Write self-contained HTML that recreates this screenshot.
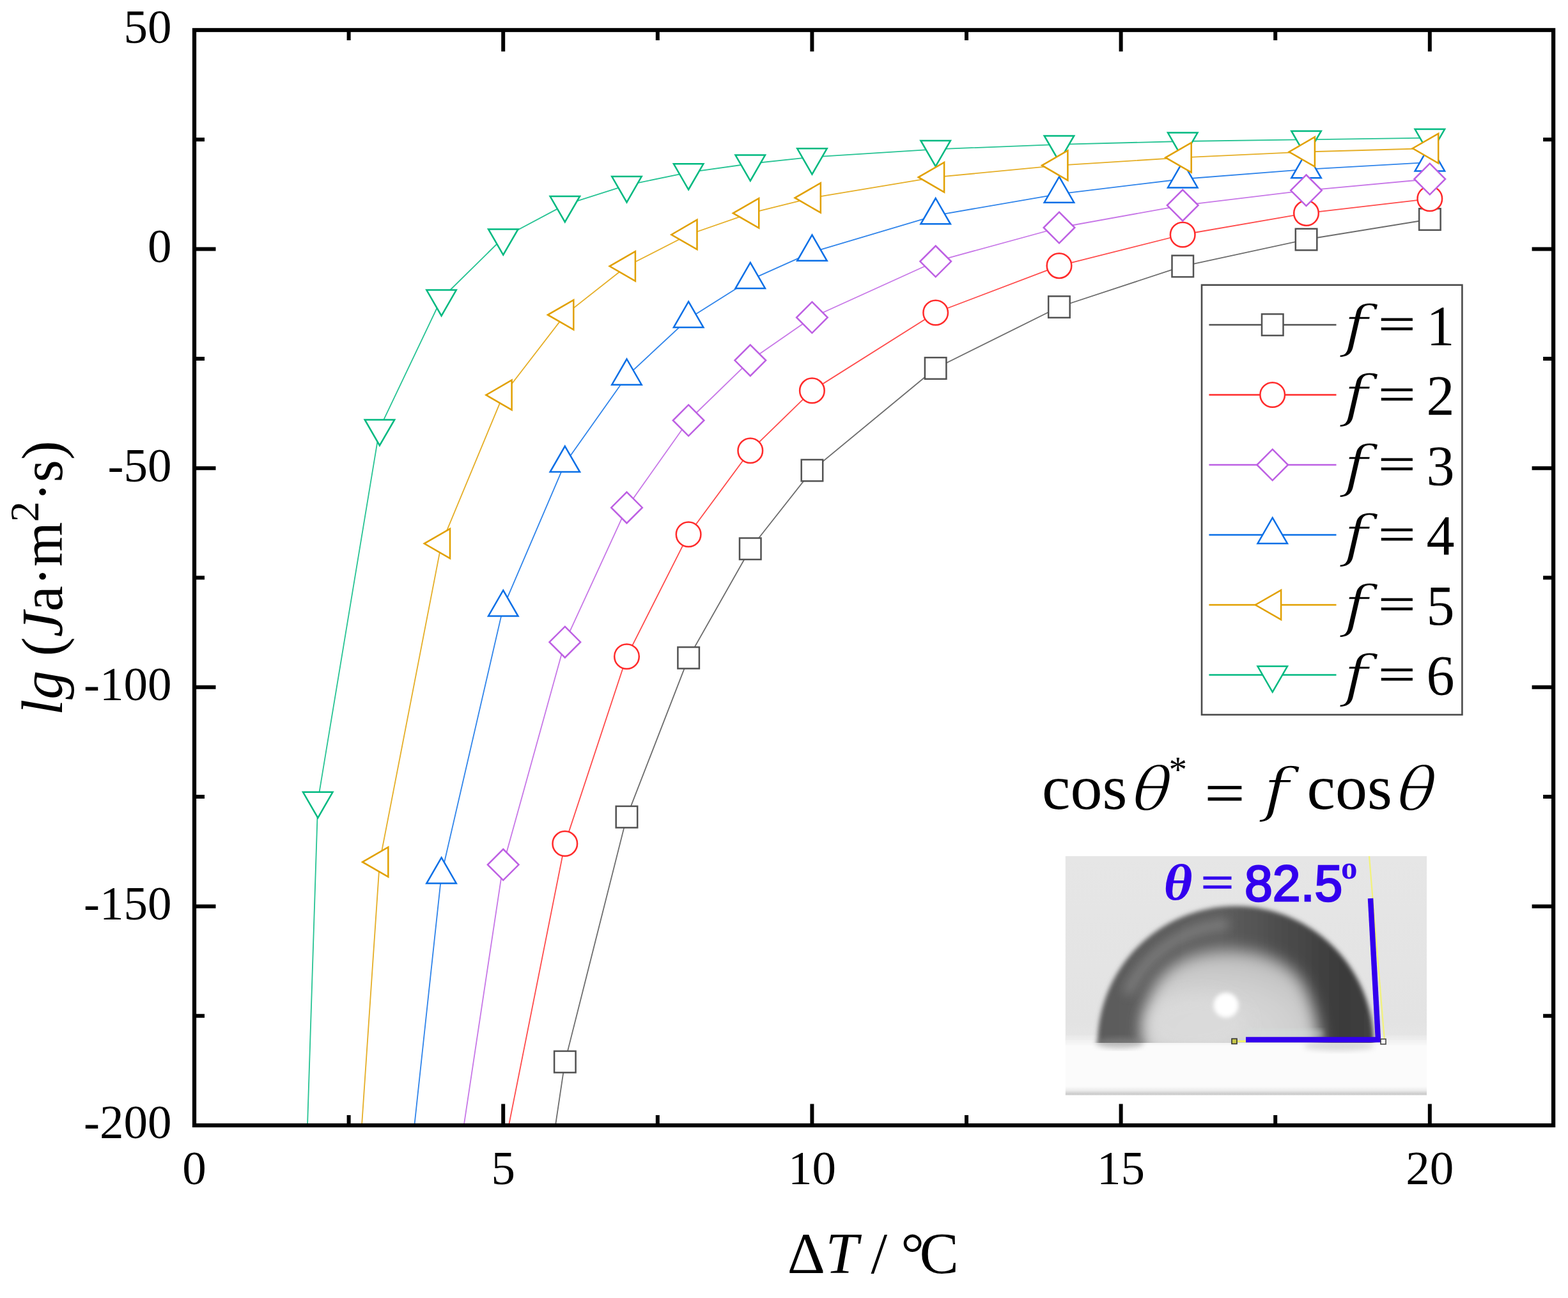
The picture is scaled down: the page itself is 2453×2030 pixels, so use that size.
<!DOCTYPE html>
<html><head><meta charset="utf-8"><title>lg(Ja m2 s) vs Delta T</title>
<style>
html,body{margin:0;padding:0;background:#fff;width:2453px;height:2030px;overflow:hidden}
svg{display:block}
text{font-family:'Liberation Serif', 'Times New Roman', serif}
</style></head><body>
<svg width="2453" height="2030" viewBox="0 0 2453 2030">
<defs>
<clipPath id="pc"><rect x="304.0" y="47.0" width="2126.1" height="1713.0"/></clipPath>
<radialGradient id="dropin" cx="0.5" cy="0.85" r="0.6">
<stop offset="0" stop-color="#dcdcdc"/><stop offset="0.6" stop-color="#cfcfcf"/><stop offset="1" stop-color="#9a9a9a"/>
</radialGradient>
<filter id="blur3" x="-20%" y="-20%" width="140%" height="140%"><feGaussianBlur stdDeviation="5"/></filter>
<filter id="blur2" x="-20%" y="-20%" width="140%" height="140%"><feGaussianBlur stdDeviation="2.5"/></filter>
</defs>
<rect width="2453" height="2030" fill="#fff"/>

<g clip-path="url(#pc)">
<polyline points="839.3,1958.7 883.8,1660.6 980.5,1277.6 1077.1,1028.9 1173.8,858.3 1270.4,735.6 1463.7,576.0 1657.0,480.0 1850.2,416.3 2043.5,374.5 2236.8,343.0" fill="none" stroke="#525252" stroke-opacity="0.85" stroke-width="1.8" stroke-linejoin="round"/>
<rect x="867.1" y="1643.9" width="33.5" height="33.5" fill="#fff" stroke="#525252" stroke-width="2.5"/>
<rect x="963.7" y="1260.9" width="33.5" height="33.5" fill="#fff" stroke="#525252" stroke-width="2.5"/>
<rect x="1060.4" y="1012.1" width="33.5" height="33.5" fill="#fff" stroke="#525252" stroke-width="2.5"/>
<rect x="1157.0" y="841.5" width="33.5" height="33.5" fill="#fff" stroke="#525252" stroke-width="2.5"/>
<rect x="1253.7" y="718.9" width="33.5" height="33.5" fill="#fff" stroke="#525252" stroke-width="2.5"/>
<rect x="1446.9" y="559.2" width="33.5" height="33.5" fill="#fff" stroke="#525252" stroke-width="2.5"/>
<rect x="1640.2" y="463.3" width="33.5" height="33.5" fill="#fff" stroke="#525252" stroke-width="2.5"/>
<rect x="1833.5" y="399.6" width="33.5" height="33.5" fill="#fff" stroke="#525252" stroke-width="2.5"/>
<rect x="2026.8" y="357.8" width="33.5" height="33.5" fill="#fff" stroke="#525252" stroke-width="2.5"/>
<rect x="2220.1" y="326.3" width="33.5" height="33.5" fill="#fff" stroke="#525252" stroke-width="2.5"/>
<polyline points="620.3,2641.2 883.8,1319.4 980.5,1026.8 1077.1,835.7 1173.8,704.8 1270.4,610.9 1463.7,489.0 1657.0,415.6 1850.2,367.0 2043.5,333.4 2236.8,310.8" fill="none" stroke="#FF2A2A" stroke-opacity="0.85" stroke-width="1.8" stroke-linejoin="round"/>
<circle cx="883.8" cy="1319.4" r="19.3" fill="#fff" stroke="#FF2A2A" stroke-width="2.5"/>
<circle cx="980.5" cy="1026.8" r="19.3" fill="#fff" stroke="#FF2A2A" stroke-width="2.5"/>
<circle cx="1077.1" cy="835.7" r="19.3" fill="#fff" stroke="#FF2A2A" stroke-width="2.5"/>
<circle cx="1173.8" cy="704.8" r="19.3" fill="#fff" stroke="#FF2A2A" stroke-width="2.5"/>
<circle cx="1270.4" cy="610.9" r="19.3" fill="#fff" stroke="#FF2A2A" stroke-width="2.5"/>
<circle cx="1463.7" cy="489.0" r="19.3" fill="#fff" stroke="#FF2A2A" stroke-width="2.5"/>
<circle cx="1657.0" cy="415.6" r="19.3" fill="#fff" stroke="#FF2A2A" stroke-width="2.5"/>
<circle cx="1850.2" cy="367.0" r="19.3" fill="#fff" stroke="#FF2A2A" stroke-width="2.5"/>
<circle cx="2043.5" cy="333.4" r="19.3" fill="#fff" stroke="#FF2A2A" stroke-width="2.5"/>
<circle cx="2236.8" cy="310.8" r="19.3" fill="#fff" stroke="#FF2A2A" stroke-width="2.5"/>
<polyline points="563.8,2543.9 690.6,1368.1 787.2,950.1 883.8,724.7 980.5,588.3 1077.1,498.5 1173.8,437.6 1270.4,394.4 1463.7,336.8 1657.0,303.3 1850.2,280.0 2043.5,264.9 2236.8,253.9" fill="none" stroke="#0A6FE6" stroke-opacity="0.85" stroke-width="1.8" stroke-linejoin="round"/>
<polygon points="690.6,1341.2 713.8,1381.5 667.3,1381.5" fill="#fff" stroke="#0A6FE6" stroke-width="2.5" stroke-linejoin="miter"/>
<polygon points="787.2,923.2 810.5,963.5 764.0,963.5" fill="#fff" stroke="#0A6FE6" stroke-width="2.5" stroke-linejoin="miter"/>
<polygon points="883.8,697.8 907.1,738.1 860.6,738.1" fill="#fff" stroke="#0A6FE6" stroke-width="2.5" stroke-linejoin="miter"/>
<polygon points="980.5,561.5 1003.7,601.7 957.2,601.7" fill="#fff" stroke="#0A6FE6" stroke-width="2.5" stroke-linejoin="miter"/>
<polygon points="1077.1,471.7 1100.4,512.0 1053.9,512.0" fill="#fff" stroke="#0A6FE6" stroke-width="2.5" stroke-linejoin="miter"/>
<polygon points="1173.8,410.7 1197.0,451.0 1150.5,451.0" fill="#fff" stroke="#0A6FE6" stroke-width="2.5" stroke-linejoin="miter"/>
<polygon points="1270.4,367.5 1293.7,407.8 1247.2,407.8" fill="#fff" stroke="#0A6FE6" stroke-width="2.5" stroke-linejoin="miter"/>
<polygon points="1463.7,310.0 1486.9,350.3 1440.4,350.3" fill="#fff" stroke="#0A6FE6" stroke-width="2.5" stroke-linejoin="miter"/>
<polygon points="1657.0,276.4 1680.2,316.7 1633.7,316.7" fill="#fff" stroke="#0A6FE6" stroke-width="2.5" stroke-linejoin="miter"/>
<polygon points="1850.2,253.1 1873.5,293.4 1827.0,293.4" fill="#fff" stroke="#0A6FE6" stroke-width="2.5" stroke-linejoin="miter"/>
<polygon points="2043.5,238.0 2066.8,278.3 2020.3,278.3" fill="#fff" stroke="#0A6FE6" stroke-width="2.5" stroke-linejoin="miter"/>
<polygon points="2236.8,227.1 2260.1,267.4 2213.6,267.4" fill="#fff" stroke="#0A6FE6" stroke-width="2.5" stroke-linejoin="miter"/>
<polyline points="602.7,2575.4 787.2,1352.3 883.8,1004.2 980.5,793.9 1077.1,657.5 1173.8,563.6 1270.4,496.5 1463.7,408.8 1657.0,356.0 1850.2,321.1 2043.5,297.8 2236.8,280.0" fill="none" stroke="#BD5FE3" stroke-opacity="0.85" stroke-width="1.8" stroke-linejoin="round"/>
<polygon points="787.2,1328.0 811.5,1352.3 787.2,1376.6 762.9,1352.3" fill="#fff" stroke="#BD5FE3" stroke-width="2.5" stroke-linejoin="miter"/>
<polygon points="883.8,979.9 908.1,1004.2 883.8,1028.5 859.5,1004.2" fill="#fff" stroke="#BD5FE3" stroke-width="2.5" stroke-linejoin="miter"/>
<polygon points="980.5,769.6 1004.8,793.9 980.5,818.2 956.2,793.9" fill="#fff" stroke="#BD5FE3" stroke-width="2.5" stroke-linejoin="miter"/>
<polygon points="1077.1,633.2 1101.4,657.5 1077.1,681.8 1052.8,657.5" fill="#fff" stroke="#BD5FE3" stroke-width="2.5" stroke-linejoin="miter"/>
<polygon points="1173.8,539.3 1198.1,563.6 1173.8,587.9 1149.5,563.6" fill="#fff" stroke="#BD5FE3" stroke-width="2.5" stroke-linejoin="miter"/>
<polygon points="1270.4,472.2 1294.7,496.5 1270.4,520.8 1246.1,496.5" fill="#fff" stroke="#BD5FE3" stroke-width="2.5" stroke-linejoin="miter"/>
<polygon points="1463.7,384.5 1488.0,408.8 1463.7,433.1 1439.4,408.8" fill="#fff" stroke="#BD5FE3" stroke-width="2.5" stroke-linejoin="miter"/>
<polygon points="1657.0,331.7 1681.3,356.0 1657.0,380.3 1632.7,356.0" fill="#fff" stroke="#BD5FE3" stroke-width="2.5" stroke-linejoin="miter"/>
<polygon points="1850.2,296.8 1874.5,321.1 1850.2,345.4 1825.9,321.1" fill="#fff" stroke="#BD5FE3" stroke-width="2.5" stroke-linejoin="miter"/>
<polygon points="2043.5,273.5 2067.8,297.8 2043.5,322.1 2019.2,297.8" fill="#fff" stroke="#BD5FE3" stroke-width="2.5" stroke-linejoin="miter"/>
<polygon points="2236.8,255.7 2261.1,280.0 2236.8,304.3 2212.5,280.0" fill="#fff" stroke="#BD5FE3" stroke-width="2.5" stroke-linejoin="miter"/>
<polyline points="448.4,2775.5 497.3,1252.3 593.9,669.8 690.6,467.0 787.2,371.8 883.8,320.4 980.5,289.6 1077.1,269.7 1173.8,256.0 1270.4,245.7 1463.7,233.4 1657.0,225.8 1850.2,221.0 2043.5,218.3 2236.8,215.6" fill="none" stroke="#00B980" stroke-opacity="0.85" stroke-width="1.8" stroke-linejoin="round"/>
<polygon points="497.3,1279.1 520.5,1238.8 474.0,1238.8" fill="#fff" stroke="#00B980" stroke-width="2.5" stroke-linejoin="miter"/>
<polygon points="593.9,696.7 617.2,656.4 570.7,656.4" fill="#fff" stroke="#00B980" stroke-width="2.5" stroke-linejoin="miter"/>
<polygon points="690.6,493.9 713.8,453.6 667.3,453.6" fill="#fff" stroke="#00B980" stroke-width="2.5" stroke-linejoin="miter"/>
<polygon points="787.2,398.6 810.5,358.4 764.0,358.4" fill="#fff" stroke="#00B980" stroke-width="2.5" stroke-linejoin="miter"/>
<polygon points="883.8,347.2 907.1,307.0 860.6,307.0" fill="#fff" stroke="#00B980" stroke-width="2.5" stroke-linejoin="miter"/>
<polygon points="980.5,316.4 1003.7,276.1 957.2,276.1" fill="#fff" stroke="#00B980" stroke-width="2.5" stroke-linejoin="miter"/>
<polygon points="1077.1,296.5 1100.4,256.3 1053.9,256.3" fill="#fff" stroke="#00B980" stroke-width="2.5" stroke-linejoin="miter"/>
<polygon points="1173.8,282.8 1197.0,242.6 1150.5,242.6" fill="#fff" stroke="#00B980" stroke-width="2.5" stroke-linejoin="miter"/>
<polygon points="1270.4,272.6 1293.7,232.3 1247.2,232.3" fill="#fff" stroke="#00B980" stroke-width="2.5" stroke-linejoin="miter"/>
<polygon points="1463.7,260.2 1486.9,220.0 1440.4,220.0" fill="#fff" stroke="#00B980" stroke-width="2.5" stroke-linejoin="miter"/>
<polygon points="1657.0,252.7 1680.2,212.4 1633.7,212.4" fill="#fff" stroke="#00B980" stroke-width="2.5" stroke-linejoin="miter"/>
<polygon points="1850.2,247.9 1873.5,207.6 1827.0,207.6" fill="#fff" stroke="#00B980" stroke-width="2.5" stroke-linejoin="miter"/>
<polygon points="2043.5,245.1 2066.8,204.9 2020.3,204.9" fill="#fff" stroke="#00B980" stroke-width="2.5" stroke-linejoin="miter"/>
<polygon points="2236.8,242.4 2260.1,202.1 2213.6,202.1" fill="#fff" stroke="#00B980" stroke-width="2.5" stroke-linejoin="miter"/>
<polyline points="510.2,2583.6 593.9,1348.2 690.6,850.1 787.2,617.8 883.8,492.4 980.5,416.3 1077.1,367.0 1173.8,333.4 1270.4,309.4 1463.7,277.2 1657.0,258.7 1850.2,246.4 2043.5,237.5 2236.8,232.0" fill="none" stroke="#E1A000" stroke-opacity="0.85" stroke-width="1.8" stroke-linejoin="round"/>
<polygon points="567.1,1348.2 607.3,1324.9 607.3,1371.4" fill="#fff" stroke="#E1A000" stroke-width="2.5" stroke-linejoin="miter"/>
<polygon points="663.7,850.1 704.0,826.8 704.0,873.3" fill="#fff" stroke="#E1A000" stroke-width="2.5" stroke-linejoin="miter"/>
<polygon points="760.4,617.8 800.6,594.5 800.6,641.0" fill="#fff" stroke="#E1A000" stroke-width="2.5" stroke-linejoin="miter"/>
<polygon points="857.0,492.4 897.3,469.1 897.3,515.6" fill="#fff" stroke="#E1A000" stroke-width="2.5" stroke-linejoin="miter"/>
<polygon points="953.6,416.3 993.9,393.1 993.9,439.6" fill="#fff" stroke="#E1A000" stroke-width="2.5" stroke-linejoin="miter"/>
<polygon points="1050.3,367.0 1090.5,343.7 1090.5,390.2" fill="#fff" stroke="#E1A000" stroke-width="2.5" stroke-linejoin="miter"/>
<polygon points="1146.9,333.4 1187.2,310.2 1187.2,356.7" fill="#fff" stroke="#E1A000" stroke-width="2.5" stroke-linejoin="miter"/>
<polygon points="1243.6,309.4 1283.8,286.2 1283.8,332.7" fill="#fff" stroke="#E1A000" stroke-width="2.5" stroke-linejoin="miter"/>
<polygon points="1436.8,277.2 1477.1,254.0 1477.1,300.5" fill="#fff" stroke="#E1A000" stroke-width="2.5" stroke-linejoin="miter"/>
<polygon points="1630.1,258.7 1670.4,235.5 1670.4,282.0" fill="#fff" stroke="#E1A000" stroke-width="2.5" stroke-linejoin="miter"/>
<polygon points="1823.4,246.4 1863.7,223.1 1863.7,269.6" fill="#fff" stroke="#E1A000" stroke-width="2.5" stroke-linejoin="miter"/>
<polygon points="2016.7,237.5 2056.9,214.2 2056.9,260.7" fill="#fff" stroke="#E1A000" stroke-width="2.5" stroke-linejoin="miter"/>
<polygon points="2210.0,232.0 2250.2,208.8 2250.2,255.3" fill="#fff" stroke="#E1A000" stroke-width="2.5" stroke-linejoin="miter"/>
</g>
<rect x="304.0" y="47.0" width="2126.1" height="1713.0" fill="none" stroke="#000" stroke-width="6.3"/>
<path d="M787.2,1760.0V1726.5M787.2,47.0V80.5M1270.4,1760.0V1726.5M1270.4,47.0V80.5M1753.6,1760.0V1726.5M1753.6,47.0V80.5M2236.8,1760.0V1726.5M2236.8,47.0V80.5M545.6,1760.0V1744.0M545.6,47.0V63.0M1028.8,1760.0V1744.0M1028.8,47.0V63.0M1512.0,1760.0V1744.0M1512.0,47.0V63.0M1995.2,1760.0V1744.0M1995.2,47.0V63.0M304.0,389.6H337.5M2430.1,389.6H2396.6M304.0,732.2H337.5M2430.1,732.2H2396.6M304.0,1074.8H337.5M2430.1,1074.8H2396.6M304.0,1417.4H337.5M2430.1,1417.4H2396.6M304.0,218.3H320.0M2430.1,218.3H2414.1M304.0,560.9H320.0M2430.1,560.9H2414.1M304.0,903.5H320.0M2430.1,903.5H2414.1M304.0,1246.1H320.0M2430.1,1246.1H2414.1M304.0,1588.7H320.0M2430.1,1588.7H2414.1" stroke="#000" stroke-width="6.0" fill="none"/>
<text x="268.5" y="67.3" font-size="75" text-anchor="end">50</text>
<text x="268.5" y="409.9" font-size="75" text-anchor="end">0</text>
<text x="268.5" y="752.5" font-size="75" text-anchor="end">-50</text>
<text x="268.5" y="1095.1" font-size="75" text-anchor="end">-100</text>
<text x="268.5" y="1437.7" font-size="75" text-anchor="end">-150</text>
<text x="268.5" y="1780.3" font-size="75" text-anchor="end">-200</text>
<text x="304.0" y="1852" font-size="75" text-anchor="middle">0</text>
<text x="787.2" y="1852" font-size="75" text-anchor="middle">5</text>
<text x="1270.4" y="1852" font-size="75" text-anchor="middle">10</text>
<text x="1753.6" y="1852" font-size="75" text-anchor="middle">15</text>
<text x="2236.8" y="1852" font-size="75" text-anchor="middle">20</text>
<text y="1991" font-size="92"><tspan x="1231.8">&#916;</tspan><tspan x="1291.5" font-style="italic">T</tspan><tspan x="1362.5">/</tspan><tspan x="1409.3">&#176;</tspan><tspan x="1438.5">C</tspan></text>
<text transform="translate(96.8,904) rotate(-90)" font-size="90" text-anchor="middle"><tspan font-style="italic">lg</tspan> (<tspan font-style="italic">J</tspan>a&#183;m<tspan font-size="64" dy="-37">2</tspan><tspan dy="37">&#183;s)</tspan></text>
<rect x="1880" y="445.7" width="407.4" height="672.1" fill="#fff" stroke="#4a4a4a" stroke-width="2.6"/>
<line x1="1891.4" y1="508.0" x2="2090.5" y2="508.0" stroke="#525252" stroke-width="2.3"/>
<rect x="1974.0" y="491.2" width="33.5" height="33.5" fill="#fff" stroke="#525252" stroke-width="2.5"/>
<text transform="translate(2101.7,540.8) scale(1.2,1)" font-size="87.4" font-style="italic" stroke="#fff" stroke-width="1.6" style="font-family:'DejaVu Serif',serif;paint-order:fill stroke">f</text>
<text transform="translate(2156.3,531.2) scale(1.17,0.82)" font-size="88" stroke="#000" stroke-width="1.0">=</text>
<text x="2231.5" y="538.5" font-size="88">1</text>
<line x1="1891.4" y1="617.5" x2="2090.5" y2="617.5" stroke="#FF2A2A" stroke-width="2.3"/>
<circle cx="1990.7" cy="617.5" r="19.3" fill="#fff" stroke="#FF2A2A" stroke-width="2.5"/>
<text transform="translate(2101.7,650.3) scale(1.2,1)" font-size="87.4" font-style="italic" stroke="#fff" stroke-width="1.6" style="font-family:'DejaVu Serif',serif;paint-order:fill stroke">f</text>
<text transform="translate(2156.3,640.7) scale(1.17,0.82)" font-size="88" stroke="#000" stroke-width="1.0">=</text>
<text x="2231.5" y="648.0" font-size="88">2</text>
<line x1="1891.4" y1="727.0" x2="2090.5" y2="727.0" stroke="#BD5FE3" stroke-width="2.3"/>
<polygon points="1990.7,702.7 2015.0,727.0 1990.7,751.3 1966.4,727.0" fill="#fff" stroke="#BD5FE3" stroke-width="2.5" stroke-linejoin="miter"/>
<text transform="translate(2101.7,759.8) scale(1.2,1)" font-size="87.4" font-style="italic" stroke="#fff" stroke-width="1.6" style="font-family:'DejaVu Serif',serif;paint-order:fill stroke">f</text>
<text transform="translate(2156.3,750.2) scale(1.17,0.82)" font-size="88" stroke="#000" stroke-width="1.0">=</text>
<text x="2231.5" y="757.5" font-size="88">3</text>
<line x1="1891.4" y1="836.5" x2="2090.5" y2="836.5" stroke="#0A6FE6" stroke-width="2.3"/>
<polygon points="1990.7,809.7 2014.0,849.9 1967.5,849.9" fill="#fff" stroke="#0A6FE6" stroke-width="2.5" stroke-linejoin="miter"/>
<text transform="translate(2101.7,869.3) scale(1.2,1)" font-size="87.4" font-style="italic" stroke="#fff" stroke-width="1.6" style="font-family:'DejaVu Serif',serif;paint-order:fill stroke">f</text>
<text transform="translate(2156.3,859.7) scale(1.17,0.82)" font-size="88" stroke="#000" stroke-width="1.0">=</text>
<text x="2231.5" y="867.0" font-size="88">4</text>
<line x1="1891.4" y1="946.0" x2="2090.5" y2="946.0" stroke="#E1A000" stroke-width="2.3"/>
<polygon points="1963.9,946.0 2004.1,922.8 2004.1,969.2" fill="#fff" stroke="#E1A000" stroke-width="2.5" stroke-linejoin="miter"/>
<text transform="translate(2101.7,978.8) scale(1.2,1)" font-size="87.4" font-style="italic" stroke="#fff" stroke-width="1.6" style="font-family:'DejaVu Serif',serif;paint-order:fill stroke">f</text>
<text transform="translate(2156.3,969.2) scale(1.17,0.82)" font-size="88" stroke="#000" stroke-width="1.0">=</text>
<text x="2231.5" y="976.5" font-size="88">5</text>
<line x1="1891.4" y1="1055.5" x2="2090.5" y2="1055.5" stroke="#00B980" stroke-width="2.3"/>
<polygon points="1990.7,1082.3 2014.0,1042.1 1967.5,1042.1" fill="#fff" stroke="#00B980" stroke-width="2.5" stroke-linejoin="miter"/>
<text transform="translate(2101.7,1088.3) scale(1.2,1)" font-size="87.4" font-style="italic" stroke="#fff" stroke-width="1.6" style="font-family:'DejaVu Serif',serif;paint-order:fill stroke">f</text>
<text transform="translate(2156.3,1078.7) scale(1.17,0.82)" font-size="88" stroke="#000" stroke-width="1.0">=</text>
<text x="2231.5" y="1086.0" font-size="88">6</text>
<text x="1630" y="1265" font-size="100">cos</text>
<text transform="translate(1764.5,1265.5) skewX(-16) scale(1.2,1)" font-size="87" style="font-family:'Noto Serif CJK SC','Liberation Serif',serif">&#952;</text>
<text x="1828.5" y="1223" font-size="57">*</text>
<text transform="translate(1884.5,1269.9) scale(1.115,0.88)" font-size="100" stroke="#000" stroke-width="0.8">=</text>
<text transform="translate(1976.2,1267.2) scale(1.2,1)" font-size="92" font-style="italic" stroke="#fff" stroke-width="1.6" style="font-family:'DejaVu Serif',serif;paint-order:fill stroke">f</text>
<text x="2044.5" y="1265" font-size="100">cos</text>
<text transform="translate(2178.5,1265.5) skewX(-16) scale(1.2,1)" font-size="87" style="font-family:'Noto Serif CJK SC','Liberation Serif',serif">&#952;</text>
<defs>
<clipPath id="phc"><rect x="1666.6" y="1339.0" width="565.4" height="374.0"/></clipPath>
<clipPath id="abovehz"><rect x="1666.6" y="1339.0" width="565.4" height="292.0"/></clipPath>
<linearGradient id="bgv" x1="0" y1="0" x2="0" y2="1">
<stop offset="0" stop-color="#e6e6e6"/><stop offset="0.9" stop-color="#e3e3e3"/><stop offset="1" stop-color="#e6e6e6"/>
</linearGradient>
<linearGradient id="botline" x1="0" y1="0" x2="0" y2="1">
<stop offset="0" stop-color="#fbfbfb"/><stop offset="0.45" stop-color="#ececec"/><stop offset="0.85" stop-color="#cbcbcb"/><stop offset="1" stop-color="#dedede"/>
</linearGradient>
<linearGradient id="ringg" x1="1721" y1="0" x2="2145" y2="0" gradientUnits="userSpaceOnUse">
<stop offset="0" stop-color="#5c5c5c"/><stop offset="0.45" stop-color="#5e5e5e"/><stop offset="0.7" stop-color="#4a4a4a"/><stop offset="0.9" stop-color="#3a3a3a"/><stop offset="1" stop-color="#404040"/>
</linearGradient>
<radialGradient id="inner" cx="0.4" cy="0.8" r="0.75">
<stop offset="0" stop-color="#dadada"/><stop offset="0.55" stop-color="#d2d2d2"/><stop offset="0.85" stop-color="#c6c6c6"/><stop offset="1" stop-color="#bababa"/>
</radialGradient>
<filter id="pb35" x="-30%" y="-30%" width="160%" height="160%"><feGaussianBlur stdDeviation="3.5"/></filter>
<filter id="pb4" x="-30%" y="-30%" width="160%" height="160%"><feGaussianBlur stdDeviation="4"/></filter>
<filter id="pb3" x="-50%" y="-50%" width="200%" height="200%"><feGaussianBlur stdDeviation="3"/></filter>
<filter id="pb12" x="-50%" y="-50%" width="200%" height="200%"><feGaussianBlur stdDeviation="12"/></filter>
<filter id="pb8" x="-50%" y="-50%" width="200%" height="200%"><feGaussianBlur stdDeviation="8"/></filter>
</defs>
<g clip-path="url(#phc)">
<rect x="1666.6" y="1339.0" width="565.4" height="288.0" fill="url(#bgv)"/>
<rect x="1666.6" y="1627.0" width="565.4" height="86.0" fill="#fbfbfb"/>
<rect x="1666.6" y="1699" width="565.4" height="14.0" fill="url(#botline)"/>
<rect x="1656.6" y="1622.0" width="585.4" height="10" fill="#f0f0f0" filter="url(#pb4)"/>
<g clip-path="url(#abovehz)">
<circle cx="1933" cy="1633" r="216" fill="url(#ringg)" filter="url(#pb35)"/>
<path d="M1915,1446 A186,186 0 0 0 1766,1548" fill="none" stroke="#868686" stroke-width="16" stroke-linecap="round" filter="url(#pb8)" opacity="0.75"/>
<path d="M1925,1486 C1982,1486 2026,1510 2042,1545 C2058,1580 2064,1610 2066,1650 L1787,1650 C1787,1600 1793,1565 1808,1540 C1830,1505 1870,1486 1925,1486 Z" fill="url(#inner)" filter="url(#pb12)"/>
<ellipse cx="1870" cy="1600" rx="80" ry="45" fill="#dcdcdc" opacity="0.7" filter="url(#pb12)"/>
<rect x="1950" y="1611" width="120" height="11" fill="#d4e2de" opacity="0.45" filter="url(#pb4)"/>
</g>
<ellipse cx="1752" cy="1631" rx="38" ry="8" fill="#8a8a8a" opacity="0.55" filter="url(#pb4)"/>
<ellipse cx="2095" cy="1636" rx="55" ry="7" fill="#b4b4b4" opacity="0.5" filter="url(#pb4)"/>
<circle cx="1918" cy="1572" r="19.5" fill="#ffffff" filter="url(#pb3)"/>
<path d="M2142,1339 L2166,1628" stroke="#f2f27a" stroke-width="2.2" fill="none"/>
<path d="M1931,1628.5 L1950,1628.5" stroke="#f0f070" stroke-width="3" fill="none"/>
<path d="M2144,1405 L2156,1626" stroke="#3300EE" stroke-width="8.5" fill="none"/>
<path d="M1949,1626 L2160,1626" stroke="#3300EE" stroke-width="8.5" fill="none"/>
<rect x="1927" y="1624.5" width="8" height="8" fill="#c8c84a" stroke="#333" stroke-width="1.6"/>
<rect x="2160" y="1625" width="8" height="8" fill="#fff" stroke="#444" stroke-width="1.6"/>
<text transform="translate(1820.5,1407) scale(1.07,1)" font-size="81" font-weight="bold" font-style="italic" fill="#3300EE">&#952;</text>
<text transform="translate(1879,1404) scale(0.94,0.72)" font-size="96" fill="#3300EE" stroke="#3300EE" stroke-width="2.2">=</text>
<text transform="translate(1947,1408.5) scale(0.985,1)" font-size="80" fill="#3300EE" stroke="#3300EE" stroke-width="2.6" style="font-family:'Liberation Sans', Arial, sans-serif">82.5</text>
<text x="2098" y="1374" font-size="51" font-weight="bold" fill="#3300EE">o</text>
</g>
</svg></body></html>
